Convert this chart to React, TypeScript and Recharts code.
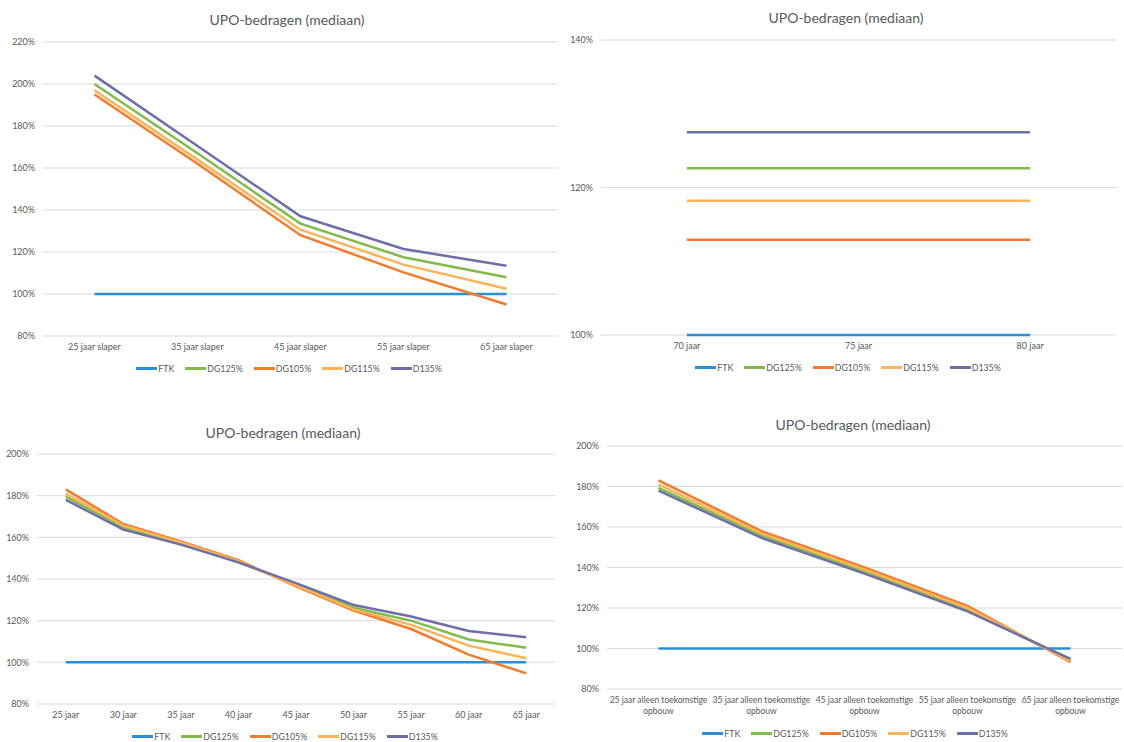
import React from "react";
import { CartesianGrid, Legend, Line, LineChart, XAxis, YAxis } from "recharts";

// series order follows the legend (later series drawn on top)
const seriesKeys = ["FTK", "DG125", "DG105", "DG115", "D135"];
const seriesNames = ["FTK", "DG125%", "DG105%", "DG115%", "D135%"];
const seriesColors = ["#2b8fd5", "#80bb4b", "#f27b2d", "#fbb45a", "#6d70a8"];

// top-left: slapers
const slaperCats = ["25 jaar slaper", "35 jaar slaper", "45 jaar slaper", "55 jaar slaper", "65 jaar slaper"];
const slaperFTK = [100, 100, 100, 100, 100];
const slaperDG125 = [200, 167, 133.5, 117.5, 108];
const slaperDG105 = [195, 162, 128, 110.3, 95];
const slaperDG115 = [197, 164, 130.6, 114, 102.5];
const slaperD135 = [204, 170.5, 137, 121.4, 113.5];
const slaperTicks = [80, 100, 120, 140, 160, 180, 200, 220];

// top-right: gepensioneerden
const pensionCats = ["70 jaar", "75 jaar", "80 jaar"];
const pensionFTK = [100, 100, 100];
const pensionDG125 = [122.6, 122.6, 122.6];
const pensionDG105 = [112.9, 112.9, 112.9];
const pensionDG115 = [118.2, 118.2, 118.2];
const pensionD135 = [127.5, 127.5, 127.5];
const pensionTicks = [100, 120, 140];

// bottom-left: actieven
const actiefCats = ["25 jaar", "30 jaar", "35 jaar", "40 jaar", "45 jaar", "50 jaar", "55 jaar", "60 jaar", "65 jaar"];
const actiefFTK = [100, 100, 100, 100, 100, 100, 100, 100, 100];
const actiefDG125 = [179.5, 164.8, 157, 148, 137.5, 126.2, 120, 111, 107];
const actiefDG105 = [183, 166.4, 158, 149, 136.5, 124.8, 116, 103.7, 94.7];
const actiefDG115 = [181, 165.6, 157.5, 148.5, 137, 125.4, 118, 108, 102];
const actiefD135 = [178, 163.7, 156.5, 148, 138, 127.5, 122, 115, 112];
const actiefTicks = [80, 100, 120, 140, 160, 180, 200];

// bottom-right: alleen toekomstige opbouw
const toekomstCats = [
  "25 jaar alleen toekomstige opbouw",
  "35 jaar alleen toekomstige opbouw",
  "45 jaar alleen toekomstige opbouw",
  "55 jaar alleen toekomstige opbouw",
  "65 jaar alleen toekomstige opbouw",
];
const toekomstFTK = [100, 100, 100, 100, 100];
const toekomstDG125 = [179.3, 155.8, 138, 119, 94.3];
const toekomstDG105 = [183, 158, 140, 121, 93.3];
const toekomstDG115 = [181, 156.8, 139, 120, 93.8];
const toekomstD135 = [178, 154.6, 137, 118.3, 94.9];
const toekomstTicks = [80, 100, 120, 140, 160, 180, 200];

const TITLE = "UPO-bedragen (mediaan)";
const FONT = "Lato, 'Open Sans', sans-serif";
const TEXT = "#595959";

function buildRows(cats: string[], values: number[][]) {
  return cats.map((cat, i) => {
    const row: Record<string, string | number> = { cat };
    seriesKeys.forEach((k, s) => {
      row[k] = values[s][i];
    });
    return row;
  });
}

function wrapLabel(label: string, maxChars: number) {
  const lines: string[] = [];
  let cur = "";
  label.split(" ").forEach((w) => {
    const next = cur ? cur + " " + w : w;
    if (next.length > maxChars && cur) {
      lines.push(cur);
      cur = w;
    } else {
      cur = next;
    }
  });
  if (cur) lines.push(cur);
  return lines;
}

function CatTick(props: any) {
  const { x, y, payload, fontSize } = props;
  const lines = wrapLabel(String(payload.value), 26);
  return (
    <text x={x} y={y} textAnchor="middle" fill={TEXT} fontSize={fontSize} fontFamily={FONT}>
      {lines.map((l, i) => (
        <tspan key={i} x={x} dy={i === 0 ? "0.71em" : "1.3em"}>
          {l}
        </tspan>
      ))}
    </text>
  );
}

function LegendRow() {
  return (
    <div
      style={{
        display: "flex",
        justifyContent: "center",
        alignItems: "center",
        fontFamily: FONT,
        fontSize: 8.8,
        color: TEXT,
        whiteSpace: "nowrap",
      }}
    >
      {seriesNames.map((name, i) => (
        <span key={name} style={{ display: "inline-flex", alignItems: "center", marginRight: i < 4 ? 11 : 0 }}>
          <span style={{ display: "inline-block", width: 21, height: 2.5, background: seriesColors[i], marginRight: 1 }} />
          {name}
        </span>
      ))}
    </div>
  );
}

type PanelProps = {
  left: number;
  top: number;
  width: number;
  height: number;
  plot: { x0: number; x1: number; y0: number; y1: number };
  cats: string[];
  values: number[][];
  ticks: number[];
  catFont: number;
  titleX: number;
  titleY: number;
  legendX: number;
  legendY: number;
};

function Panel(p: PanelProps) {
  const data = buildRows(p.cats, p.values);
  const yAxisWidth = p.plot.x0 - p.left;
  const xAxisHeight = p.top + p.height - p.plot.y1;
  const plotW = p.plot.x1 - p.plot.x0;
  const pad = plotW / (2 * p.cats.length);
  const margin = {
    top: p.plot.y0 - p.top,
    bottom: 0,
    left: 0,
    right: p.left + p.width - p.plot.x1,
  };
  return (
    <div style={{ position: "absolute", left: p.left, top: p.top, width: p.width, height: p.height }}>
      <div
        style={{
          position: "absolute",
          left: p.titleX - p.left - 150,
          width: 300,
          top: p.titleY - p.top - 9,
          textAlign: "center",
          fontFamily: FONT,
          fontSize: 14,
          color: TEXT,
          lineHeight: "18px",
        }}
      >
        {TITLE}
      </div>
      <LineChart width={p.width} height={p.height} data={data} margin={margin}>
        <CartesianGrid vertical={false} stroke="#d9d9d9" strokeWidth={1} />
        <XAxis
          dataKey="cat"
          height={xAxisHeight}
          axisLine={false}
          tickLine={false}
          interval={0}
          padding={{ left: pad, right: pad }}
          tick={<CatTick fontSize={p.catFont} />}
        />
        <YAxis
          width={yAxisWidth}
          domain={[p.ticks[0], p.ticks[p.ticks.length - 1]]}
          ticks={p.ticks}
          interval={0}
          axisLine={false}
          tickLine={false}
          tickFormatter={(v) => `${v}%`}
          tick={{ fill: TEXT, fontSize: 9, fontFamily: FONT }}
        />
        <Legend
          layout="horizontal"
          verticalAlign="middle"
          align="center"
          content={() => <LegendRow />}
          wrapperStyle={{ top: p.legendY - p.top - 6, left: p.legendX - p.left - 200, width: 400, height: 12 }}
        />
        {seriesKeys.map((k, i) => (
          <Line
            key={k}
            type="linear"
            dataKey={k}
            name={seriesNames[i]}
            stroke={seriesColors[i]}
            strokeWidth={2.5}
            dot={false}
            activeDot={false}
            isAnimationActive={false}
          />
        ))}
      </LineChart>
    </div>
  );
}

export default function App() {
  return (
    <div style={{ position: "absolute", left: 0, top: 0, width: 1124, height: 742, background: "#fff" }}>
      <Panel
        left={0}
        top={0}
        width={560}
        height={380}
        plot={{ x0: 43, x1: 558, y0: 42, y1: 336 }}
        cats={slaperCats}
        values={[slaperFTK, slaperDG125, slaperDG105, slaperDG115, slaperD135]}
        ticks={slaperTicks}
        catFont={9}
        titleX={287}
        titleY={20}
        legendX={289}
        legendY={369}
      />
      <Panel
        left={560}
        top={0}
        width={564}
        height={380}
        plot={{ x0: 601, x1: 1116, y0: 40, y1: 335 }}
        cats={pensionCats}
        values={[pensionFTK, pensionDG125, pensionDG105, pensionDG115, pensionD135]}
        ticks={pensionTicks}
        catFont={9}
        titleX={846}
        titleY={18}
        legendX={848}
        legendY={368}
      />
      <Panel
        left={0}
        top={410}
        width={560}
        height={332}
        plot={{ x0: 37, x1: 555, y0: 454, y1: 704 }}
        cats={actiefCats}
        values={[actiefFTK, actiefDG125, actiefDG105, actiefDG115, actiefD135]}
        ticks={actiefTicks}
        catFont={9}
        titleX={283}
        titleY={433}
        legendX={285}
        legendY={737}
      />
      <Panel
        left={560}
        top={410}
        width={564}
        height={332}
        plot={{ x0: 607, x1: 1122, y0: 446, y1: 689 }}
        cats={toekomstCats}
        values={[toekomstFTK, toekomstDG125, toekomstDG105, toekomstDG115, toekomstD135]}
        ticks={toekomstTicks}
        catFont={8.5}
        titleX={853}
        titleY={425}
        legendX={855}
        legendY={734}
      />
    </div>
  );
}
